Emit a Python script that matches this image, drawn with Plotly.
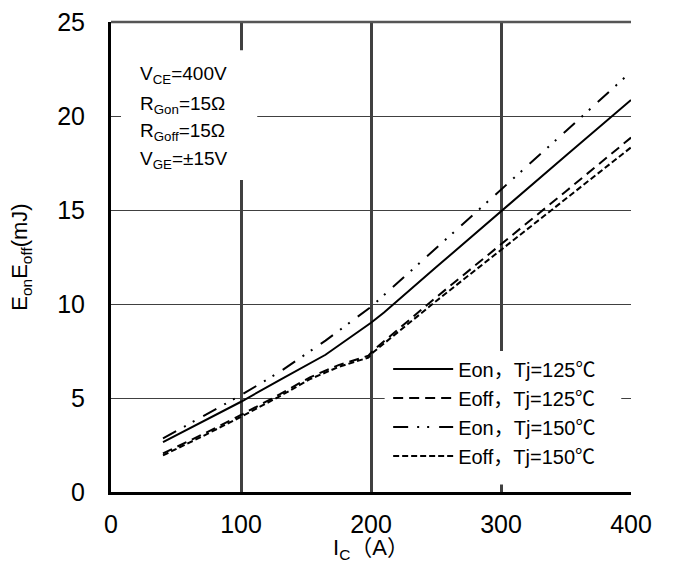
import plotly.graph_objects as go

# Switching energy vs collector current
ic_eon125 = [40, 70, 100, 130, 165, 200, 210, 250, 300, 350, 400]
eon125 = [2.65, 3.73, 4.8, 5.97, 7.3, 9.0, 9.55, 11.95, 14.95, 17.9, 20.85]

ic_eoff125 = [40, 70, 100, 130, 153, 175, 198, 202, 250, 300, 350, 400]
eoff125 = [2.05, 3.05, 4.1, 5.2, 6.1, 6.75, 7.25, 7.55, 10.35, 13.15, 16.0, 18.85]

ic_eon150 = [40, 70, 100, 130, 165, 200, 250, 300, 350, 400]
eon150 = [2.85, 4.0, 5.15, 6.4, 8.05, 9.85, 12.95, 16.05, 19.2, 22.35]

ic_eoff150 = [40, 70, 100, 130, 153, 175, 198, 202, 250, 300, 350, 400]
eoff150 = [1.95, 2.95, 4.0, 5.1, 6.0, 6.65, 7.15, 7.45, 10.15, 12.87, 15.6, 18.33]

names = ["Eon，Tj=125℃", "Eoff，Tj=125℃", "Eon，Tj=150℃", "Eoff，Tj=150℃"]
cond_lines = ["V<sub>CE</sub>=400V", "R<sub>Gon</sub>=15Ω", "R<sub>Goff</sub>=15Ω", "V<sub>GE</sub>=±15V"]

x_ticks = [0, 100, 200, 300, 400]
y_ticks = [0, 5, 10, 15, 20, 25]

FONT = "Liberation Sans, Arial, Noto Sans CJK SC, sans-serif"
CJK_FONT = "Liberation Sans, Noto Sans CJK SC, sans-serif"

series = [
    (ic_eon125, eon125, "solid"),
    (ic_eoff125, eoff125, "10px,6px"),
    (ic_eon150, eon150, "15px,9px,2px,8px,2px,10px"),
    (ic_eoff150, eoff150, "6px,3px"),
]

fig = go.Figure()
for i, ((xs, ys, dash), name) in enumerate(zip(series, names)):
    fig.add_trace(go.Scatter(
        x=xs, y=ys, mode="lines", name=name, legendgroup=f"g{i}",
        line=dict(color="black", width=2, dash=dash),
    ))

# white panels behind the legend and the test-condition block
fig.add_shape(type="rect", xref="x", yref="y", layer="between",
              x0=7.7, x1=112.5, y0=16.6, y1=23.5,
              fillcolor="white", line=dict(width=0))
fig.add_shape(type="rect", xref="x", yref="y", layer="between",
              x0=210.5, x1=392.5, y0=0.4, y1=7.5,
              fillcolor="white", line=dict(width=0))
# darker top frame
fig.add_shape(type="line", xref="paper", yref="paper", x0=0, x1=1, y0=1, y1=1,
              line=dict(color="#555555", width=2.5))

cond_y = [22.2, 20.6, 19.15, 17.65]
for txt, yy in zip(cond_lines, cond_y):
    fig.add_annotation(x=20.8, y=yy, xref="x", yref="y", text=txt, showarrow=False,
                       xanchor="left", yanchor="middle",
                       font=dict(family=FONT, size=19, color="black"))

fig.update_layout(
    width=673, height=563,
    margin=dict(l=111, r=42, t=22, b=71, autoexpand=False),
    paper_bgcolor="white", plot_bgcolor="white",
    font=dict(family=FONT, color="black"),
    showlegend=True,
    legend=dict(x=0.533, y=0.303, xanchor="left", yanchor="top",
                bgcolor="rgba(0,0,0,0)", borderwidth=0,
                font=dict(family=CJK_FONT, size=20, color="black"),
                itemwidth=60, tracegroupgap=12, traceorder="normal"),
)
fig.update_xaxes(
    range=[0, 400], tickvals=x_ticks, ticktext=[str(v) for v in x_ticks],
    showgrid=True, gridcolor="#404040", gridwidth=2.5,
    showline=True, linecolor="black", linewidth=3,
    zeroline=False, ticks="", ticklabelstandoff=8, automargin=False,
    tickfont=dict(family=FONT, size=25, color="black"),
    title=dict(text="I<sub>C</sub>（A）", font=dict(family=CJK_FONT, size=22, color="black"), standoff=17),
)
fig.update_yaxes(
    range=[0, 25], tickvals=y_ticks, ticktext=[str(v) for v in y_ticks],
    showgrid=True, gridcolor="#404040", gridwidth=1,
    showline=True, linecolor="black", linewidth=3,
    zeroline=False, ticks="", ticklabelstandoff=18, automargin=False,
    tickfont=dict(family=FONT, size=25, color="black"),
    title=dict(text="E<sub>on</sub>E<sub>off</sub>(mJ)", font=dict(family=FONT, size=22, color="black"), standoff=24),
)

fig.write_html("out.html")
